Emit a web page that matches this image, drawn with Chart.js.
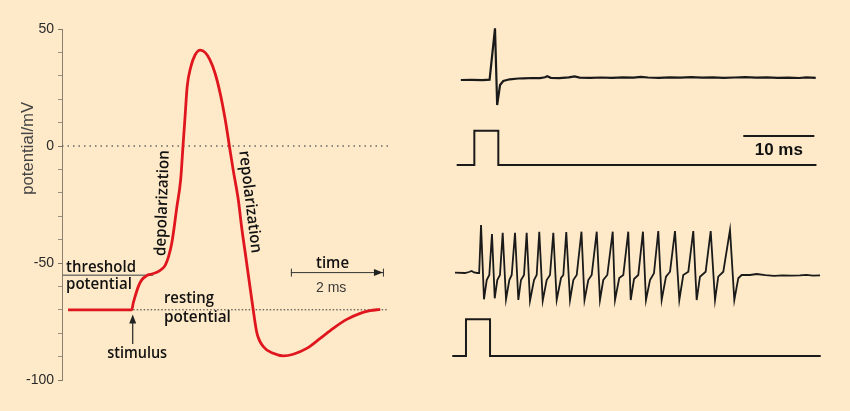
<!DOCTYPE html>
<html>
<head>
<meta charset="utf-8">
<script src="https://cdn.jsdelivr.net/npm/chart.js@4.4.0/dist/chart.umd.min.js"></script>
<style>
  html, body { margin: 0; padding: 0; background: #feeac8; }
  #wrap { position: relative; width: 850px; height: 411px; background: #feeac8; overflow: hidden; }
  #left { position: absolute; left: 0; top: 0; }
  #right { position: absolute; left: 450px; top: 0; }
</style>
</head>
<body>
<div id="wrap">
  <canvas id="left" width="430" height="411"></canvas>
  <canvas id="right" width="380" height="411"></canvas>
</div>
<script>
// ---- left panel: action potential (time in ms, potential in mV) ----
const apTime = [0.13, 1.50, 1.53, 1.57, 1.64, 1.71, 1.82, 1.93, 2.04, 2.14, 2.22, 2.29, 2.36, 2.47, 2.55,
  2.60, 2.65, 2.69, 2.77, 2.86, 2.97, 3.08, 3.18, 3.29, 3.40, 3.51, 3.60, 3.68, 3.79, 3.86, 3.96,
  4.11, 4.19, 4.33, 4.54, 4.76, 4.97, 5.26, 5.55, 5.83, 6.12, 6.41, 6.62, 6.84];
const apVoltage = [-70, -70, -67.2, -64.4, -60.1, -57.3, -55.4, -54.7, -54, -52.7, -50.9, -47.3, -41.5, -25.9, -14.5,
  -0.3, 14, 25.3, 33.9, 38.9, 41, 39.9, 36.8, 31.1, 22.5, 11.1, -0.3, -10.3, -23.1, -34.5, -48.7,
  -70, -80, -85.8, -88.6, -89.7, -89, -86.5, -82.2, -77.9, -74.1, -71.5, -70.4, -69.8];

const zeroLine = { t: [0, 7.05], v: [0, 0] };
const restingLine = { t: [1.53, 6.99], v: [-70, -70] };
const thresholdLine = { t: [0, 1.96], v: [-55.2, -55.2] };
const stimulusArrow = { t: [1.52, 1.52], v: [-84.6, -75] };
const timeBar = { t: [4.92, 6.92], v: [-54.1, -54.1] };

const yTickValues = [-100, -50, 0, 50];

// ---- right panel: recordings (time in ms, amplitude in relative units) ----
const singleT = [1.5, 3.0, 4.5, 5.5, 6.25, 6.55, 6.95, 7.4, 8.3, 9.5, 10.2, 11.5, 12.5, 13.2, 13.5, 14.0, 15.2,
  16.5, 17.3, 18.0, 19.5, 21.0, 22.5, 24.0, 25.5, 26.5, 27.5, 29.0, 30.5, 32.0, 33.5, 35.0, 36.5, 38.0,
  39.5, 41.0, 42.5, 44.0, 45.5, 47.0, 48.5, 49.5, 50.8];
const singleV = [0, 0.2, -0.2, 0.3, 51.7, -25, -5, -1, 0.7, 1.5, 1.7, 2.0, 1.8, 2.7, 3.8, 2.2, 1.9,
  2.6, 3.6, 2.4, 2.1, 2.5, 2.2, 2.7, 2.3, 3.2, 2.5, 2.2, 2.6, 2.3, 2.8, 2.4, 2.6, 2.2,
  2.5, 2.8, 2.3, 2.6, 2.1, 2.4, 2.0, 2.7, 2.2];

const stim1T = [0.93, 3.38, 3.38, 6.71, 6.71, 50.9];
const stim1V = [0, 0, 34.3, 34.3, 0, 0];

const scaleBarT = [40.74, 50.6];
const scaleBarV = [29, 29];

const trainT = [0.69, 2.08, 2.64, 3.01, 3.33, 3.82, 4.05,
  4.31, 4.72, 5.10, 5.46,
  5.83, 6.21, 6.57, 6.94,
  7.32, 7.78, 8.24, 8.57,
  9.03, 9.49, 9.86, 10.28,
  10.65, 11.11, 11.67, 12.04,
  12.40, 12.88, 13.43, 13.89,
  14.35, 14.82, 15.42, 15.74,
  16.15, 16.67, 17.13, 17.60,
  18.26, 18.68, 19.21, 19.68,
  20.38, 20.83, 21.29, 21.85,
  22.60, 22.92, 23.51, 24.07,
  24.76, 25.10, 25.56, 26.15,
  26.80, 27.22, 27.78, 28.33,
  28.93, 29.40, 30.00, 30.56,
  31.25, 31.85, 32.40, 33.10,
  33.79, 34.26, 34.72, 35.51,
  36.21, 36.81, 37.26, 37.96,
  38.89, 39.49, 40.04, 40.51,
  41.67, 42.60, 43.8, 45.0, 46.2, 47.4, 48.6, 49.5, 50.4, 51.4];
const trainV = [0.3, 0, 1, 2, 0.5, 0, 0,
  48, -26.3, -7, -2,
  39, -25.3, -7, -2,
  40.3, -26.3, -7, -2,
  40.3, -27, -7, -2,
  40.3, -27.7, -7, -2,
  41.3, -27.7, -7, -2,
  40.3, -27, -5, -2,
  41, -27, -7, -2,
  41.3, -27, -7, -2,
  41.3, -27, -7, -2,
  41.3, -27, -5, -2,
  41.3, -27, -6, -2,
  41.3, -27, -7, -0.3,
  42, -27, -3.7, 1.3,
  42, -27, -2, 1.3,
  42, -27, -3.7, 1.3,
  42, -27, -3.7, 1.3,
  43, -27, -5.3, -2,
  -2, -1, -2.2, -2.8, -2.3, -2.6, -2.4, -1.8, -2.6, -2.3];

const stim2T = [0.32, 2.22, 2.22, 5.56, 5.56, 51.49];
const stim2V = [0, 0, 36.7, 36.7, 0, 0];

const toPoints = (t, v) => t.map((x, i) => ({ x: x, y: v[i] }));

const ANNOT_FONT = '600 16px "Open Sans"';

const apLabels = {
  id: 'apLabels',
  afterDatasetsDraw(chart) {
    const { ctx } = chart;
    const x = chart.scales.x, y = chart.scales.y;
    const px = t => x.getPixelForValue(t);
    const py = v => y.getPixelForValue(v);
    ctx.save();
    ctx.fillStyle = '#111';
    ctx.font = ANNOT_FONT;
    ctx.textAlign = 'left';
    ctx.textBaseline = 'alphabetic';
    ctx.fillText('threshold', px(0.086), py(-53.8), 70);
    ctx.fillText('potential', px(0.086), py(-61.1), 66);
    ctx.fillText('resting', px(2.19), py(-67.1), 50);
    ctx.fillText('potential', px(2.19), py(-75.2), 67);
    ctx.fillText('stimulus', px(0.97), py(-90.6), 60);
    ctx.fillText('time', px(5.46), py(-52.0), 33);

    ctx.save();
    ctx.translate(px(2.16), py(-24.4));
    ctx.rotate(-88 * Math.PI / 180);
    ctx.textAlign = 'center';
    ctx.textBaseline = 'middle';
    ctx.fillText('depolarization', 0, 0, 106);
    ctx.restore();

    ctx.save();
    ctx.translate(px(4.04), py(-23.9));
    ctx.rotate(83 * Math.PI / 180);
    ctx.textAlign = 'center';
    ctx.textBaseline = 'middle';
    ctx.fillText('repolarization', 0, 0, 103);
    ctx.restore();

    ctx.fillStyle = '#3a3a3a';
    ctx.font = '14px "Liberation Sans", Arial, sans-serif';
    ctx.fillText('2 ms', px(5.46), py(-62.6), 32);

    // y axis title
    ctx.save();
    ctx.translate(28, py(-1));
    ctx.rotate(-Math.PI / 2);
    ctx.textAlign = 'center';
    ctx.textBaseline = 'middle';
    ctx.fillStyle = '#444';
    ctx.font = '17px "Liberation Sans", Arial, sans-serif';
    ctx.fillText('potential/mV', 0, 0, 93);
    ctx.restore();

    // time bar end caps and arrow head
    ctx.strokeStyle = '#333';
    ctx.fillStyle = '#222';
    ctx.lineWidth = 1;
    const bx1 = px(timeBar.t[0]), bx2 = px(timeBar.t[1]), by = py(timeBar.v[0]);
    ctx.beginPath();
    ctx.moveTo(bx1 + 0.5, by - 4); ctx.lineTo(bx1 + 0.5, by + 4);
    ctx.moveTo(bx2 - 0.5, by - 4); ctx.lineTo(bx2 - 0.5, by + 4);
    ctx.stroke();
    ctx.beginPath();
    ctx.moveTo(bx2 - 1, by);
    ctx.lineTo(bx2 - 10, by - 3.5);
    ctx.lineTo(bx2 - 10, by + 3.5);
    ctx.closePath();
    ctx.fill();

    // stimulus arrow head
    const sx = px(stimulusArrow.t[0]), sy = py(stimulusArrow.v[1]);
    ctx.beginPath();
    ctx.moveTo(sx, sy - 7);
    ctx.lineTo(sx - 3.5, sy + 2);
    ctx.lineTo(sx + 3.5, sy + 2);
    ctx.closePath();
    ctx.fill();
    ctx.restore();
  }
};

new Chart(document.getElementById('left'), {
  type: 'line',
  data: {
    datasets: [
      { data: toPoints(apTime, apVoltage), borderColor: '#e0161e', borderWidth: 2.8,
        cubicInterpolationMode: 'monotone', pointRadius: 0 },
      { data: toPoints(thresholdLine.t, thresholdLine.v), borderColor: '#7a7670', borderWidth: 1.5, pointRadius: 0 },
      { data: toPoints(restingLine.t, restingLine.v), borderColor: '#333', borderWidth: 1,
        borderDash: [1.5, 2], pointRadius: 0 },
      { data: toPoints(zeroLine.t, zeroLine.v), borderColor: '#666', borderWidth: 1.3,
        borderDash: [1.5, 4], pointRadius: 0 },
      { data: toPoints(stimulusArrow.t, stimulusArrow.v), borderColor: '#222', borderWidth: 1.2, pointRadius: 0 },
      { data: toPoints(timeBar.t, timeBar.v), borderColor: '#333', borderWidth: 1, pointRadius: 0 }
    ]
  },
  options: {
    responsive: false,
    animation: false,
    layout: { padding: { left: 0, top: 29, right: 40, bottom: 31 } },
    plugins: { legend: { display: false }, tooltip: { enabled: false } },
    scales: {
      x: { type: 'linear', display: false, min: 0, max: 7.05 },
      y: {
        type: 'linear', min: -100, max: 50,
        afterFit(scale) { scale.width = 62; },
        afterBuildTicks(scale) {
          const ticks = [];
          for (let v = -100; v <= 50; v += 10) ticks.push({ value: v });
          scale.ticks = ticks;
        },
        ticks: {
          autoSkip: false,
          padding: 4,
          color: '#2a2a2a',
          font: { family: '"Liberation Sans", Arial, sans-serif', size: 14 },
          callback: v => yTickValues.includes(v) ? String(v) : ''
        },
        grid: {
          drawOnChartArea: false, drawTicks: true, tickLength: 4,
          tickColor: ctx => yTickValues.includes(ctx.tick && ctx.tick.value) ? '#7d7466' : '#9a9082'
        },
        border: { display: true, color: '#8a8070', width: 1 }
      }
    }
  },
  plugins: [apLabels]
});

const traceLabels = {
  id: 'traceLabels',
  afterDatasetsDraw(chart) {
    const { ctx } = chart;
    const x = chart.scales.x, y = chart.scales.yB;
    ctx.save();
    ctx.fillStyle = '#111';
    ctx.font = 'bold 17px "Liberation Sans", Arial, sans-serif';
    ctx.textAlign = 'center';
    ctx.textBaseline = 'alphabetic';
    const cx = x.getPixelForValue((scaleBarT[0] + scaleBarT[1]) / 2);
    ctx.fillText('10 ms', cx, y.getPixelForValue(scaleBarV[0]) + 19);
    ctx.restore();
  }
};

const traceStyle = { borderColor: '#1a1a1a', pointRadius: 0, tension: 0 };

new Chart(document.getElementById('right'), {
  type: 'line',
  data: {
    datasets: [
      Object.assign({ data: toPoints(singleT, singleV), yAxisID: 'yA', borderWidth: 2.2 }, traceStyle),
      Object.assign({ data: toPoints(stim1T, stim1V), yAxisID: 'yB', borderWidth: 2 }, traceStyle),
      Object.assign({ data: toPoints(scaleBarT, scaleBarV), yAxisID: 'yB', borderWidth: 2 }, traceStyle),
      Object.assign({ data: toPoints(trainT, trainV), yAxisID: 'yC', borderWidth: 1.8 }, traceStyle),
      Object.assign({ data: toPoints(stim2T, stim2V), yAxisID: 'yD', borderWidth: 2 }, traceStyle)
    ]
  },
  options: {
    responsive: false,
    animation: false,
    layout: { padding: 0 },
    plugins: { legend: { display: false }, tooltip: { enabled: false } },
    scales: {
      x: { type: 'linear', display: false, min: 0, max: 52.78 },
      yA: { type: 'linear', display: false, min: -331, max: 80 },
      yB: { type: 'linear', display: false, min: -246, max: 165 },
      yC: { type: 'linear', display: false, min: -138, max: 273 },
      yD: { type: 'linear', display: false, min: -55, max: 356 }
    }
  },
  plugins: [traceLabels]
});
</script>
</body>
</html>
